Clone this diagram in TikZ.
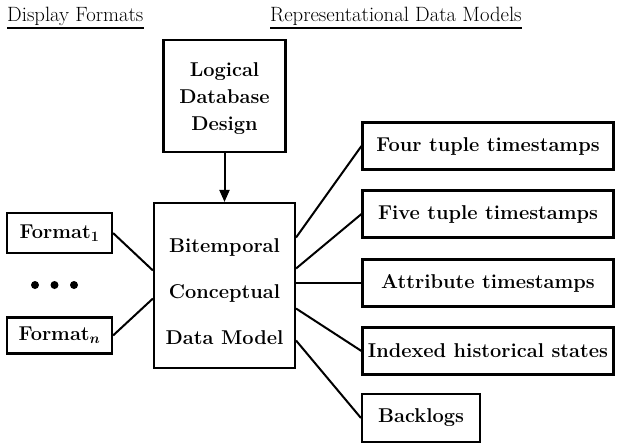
\documentclass[tikz,border=0pt]{standalone}
\usepackage{fontspec}
\usetikzlibrary{arrows.meta,calc}
\begin{document}
\begin{tikzpicture}[x=1pt,y=-1pt,
  every node/.style={font=\fontsize{20}{24}\selectfont\bfseries},
  box/.style={draw,line width=2.1pt,inner sep=0pt,align=center},
  link/.style={line width=2pt},
  dot/.style={circle,fill,inner sep=0pt,minimum size=8pt},
  hdr/.style={font=\fontsize{20.7}{24}\selectfont,inner sep=0pt,anchor=base west}]
\useasboundingbox (0,0) rectangle (618,445);
% headers
\node[hdr] (h1) at (7,21) {Display Formats};
\node[hdr] (h2) at (270,21) {Representational Data Models};
\draw[line width=1.5pt] ([yshift=-7pt]h1.base west) -- ([yshift=-7pt]h1.base east);
\draw[line width=1.5pt] ([yshift=-7pt]h2.base west) -- ([yshift=-7pt]h2.base east);
% boxes
\node[box,minimum width=122pt,minimum height=112pt] (ldd) at (224.5,96)
  {\raisebox{-7.5pt}[0pt][0pt]{\fontsize{20}{27}\selectfont\begin{tabular}{@{}c@{}}Logical\\Database\\Design\end{tabular}}};
\node[box,minimum width=141pt,minimum height=165pt] (bcdm) at (224.5,285.5)
  {\raisebox{-9pt}[0pt][0pt]{\fontsize{20}{46}\selectfont\begin{tabular}{@{}c@{}}Bitemporal\\Conceptual\\Data Model\end{tabular}}};
\node[box,minimum width=105pt,minimum height=40pt] (f1) at (59.5,233) {Format{\boldmath$_1$}};
\node[box,minimum width=105pt,minimum height=36pt] (fn) at (59.5,335.5) {Format{\boldmath$_n$}};
\node[dot] (d1) at (35,285) {};
\node[dot] (d2) at (54.5,285) {};
\node[dot] (d3) at (74,285) {};
\node[box,minimum width=251pt,minimum height=47pt] (r1) at (488,146) {Four tuple timestamps};
\node[box,minimum width=251pt,minimum height=47pt] (r2) at (488,214) {Five tuple timestamps};
\node[box,minimum width=251pt,minimum height=47pt] (r3) at (488,283) {Attribute timestamps};
\node[box,minimum width=251pt,minimum height=47pt] (r4) at (488,351) {Indexed historical states};
\node[box,minimum width=118pt,minimum height=48pt] (r5) at (421,418) {Backlogs};
% connectors
\draw[link,-{Triangle[length=12pt,width=10pt]}] (ldd.south) -- (bcdm.north);
\draw[link] (f1.east) -- ([yshift=15pt]bcdm.west);
\draw[link] (fn.east) -- ([yshift=-13pt]bcdm.west);
\draw[link] ([yshift=48pt]bcdm.east) -- (r1.west);
\draw[link] ([yshift=17pt]bcdm.east) -- (r2.west);
\draw[link] (bcdm.east |- r3.west) -- (r3.west);
\draw[link] ([yshift=-23pt]bcdm.east) -- (r4.west);
\draw[link] ([yshift=-55pt]bcdm.east) -- (r5.west);
\end{tikzpicture}
\end{document}
